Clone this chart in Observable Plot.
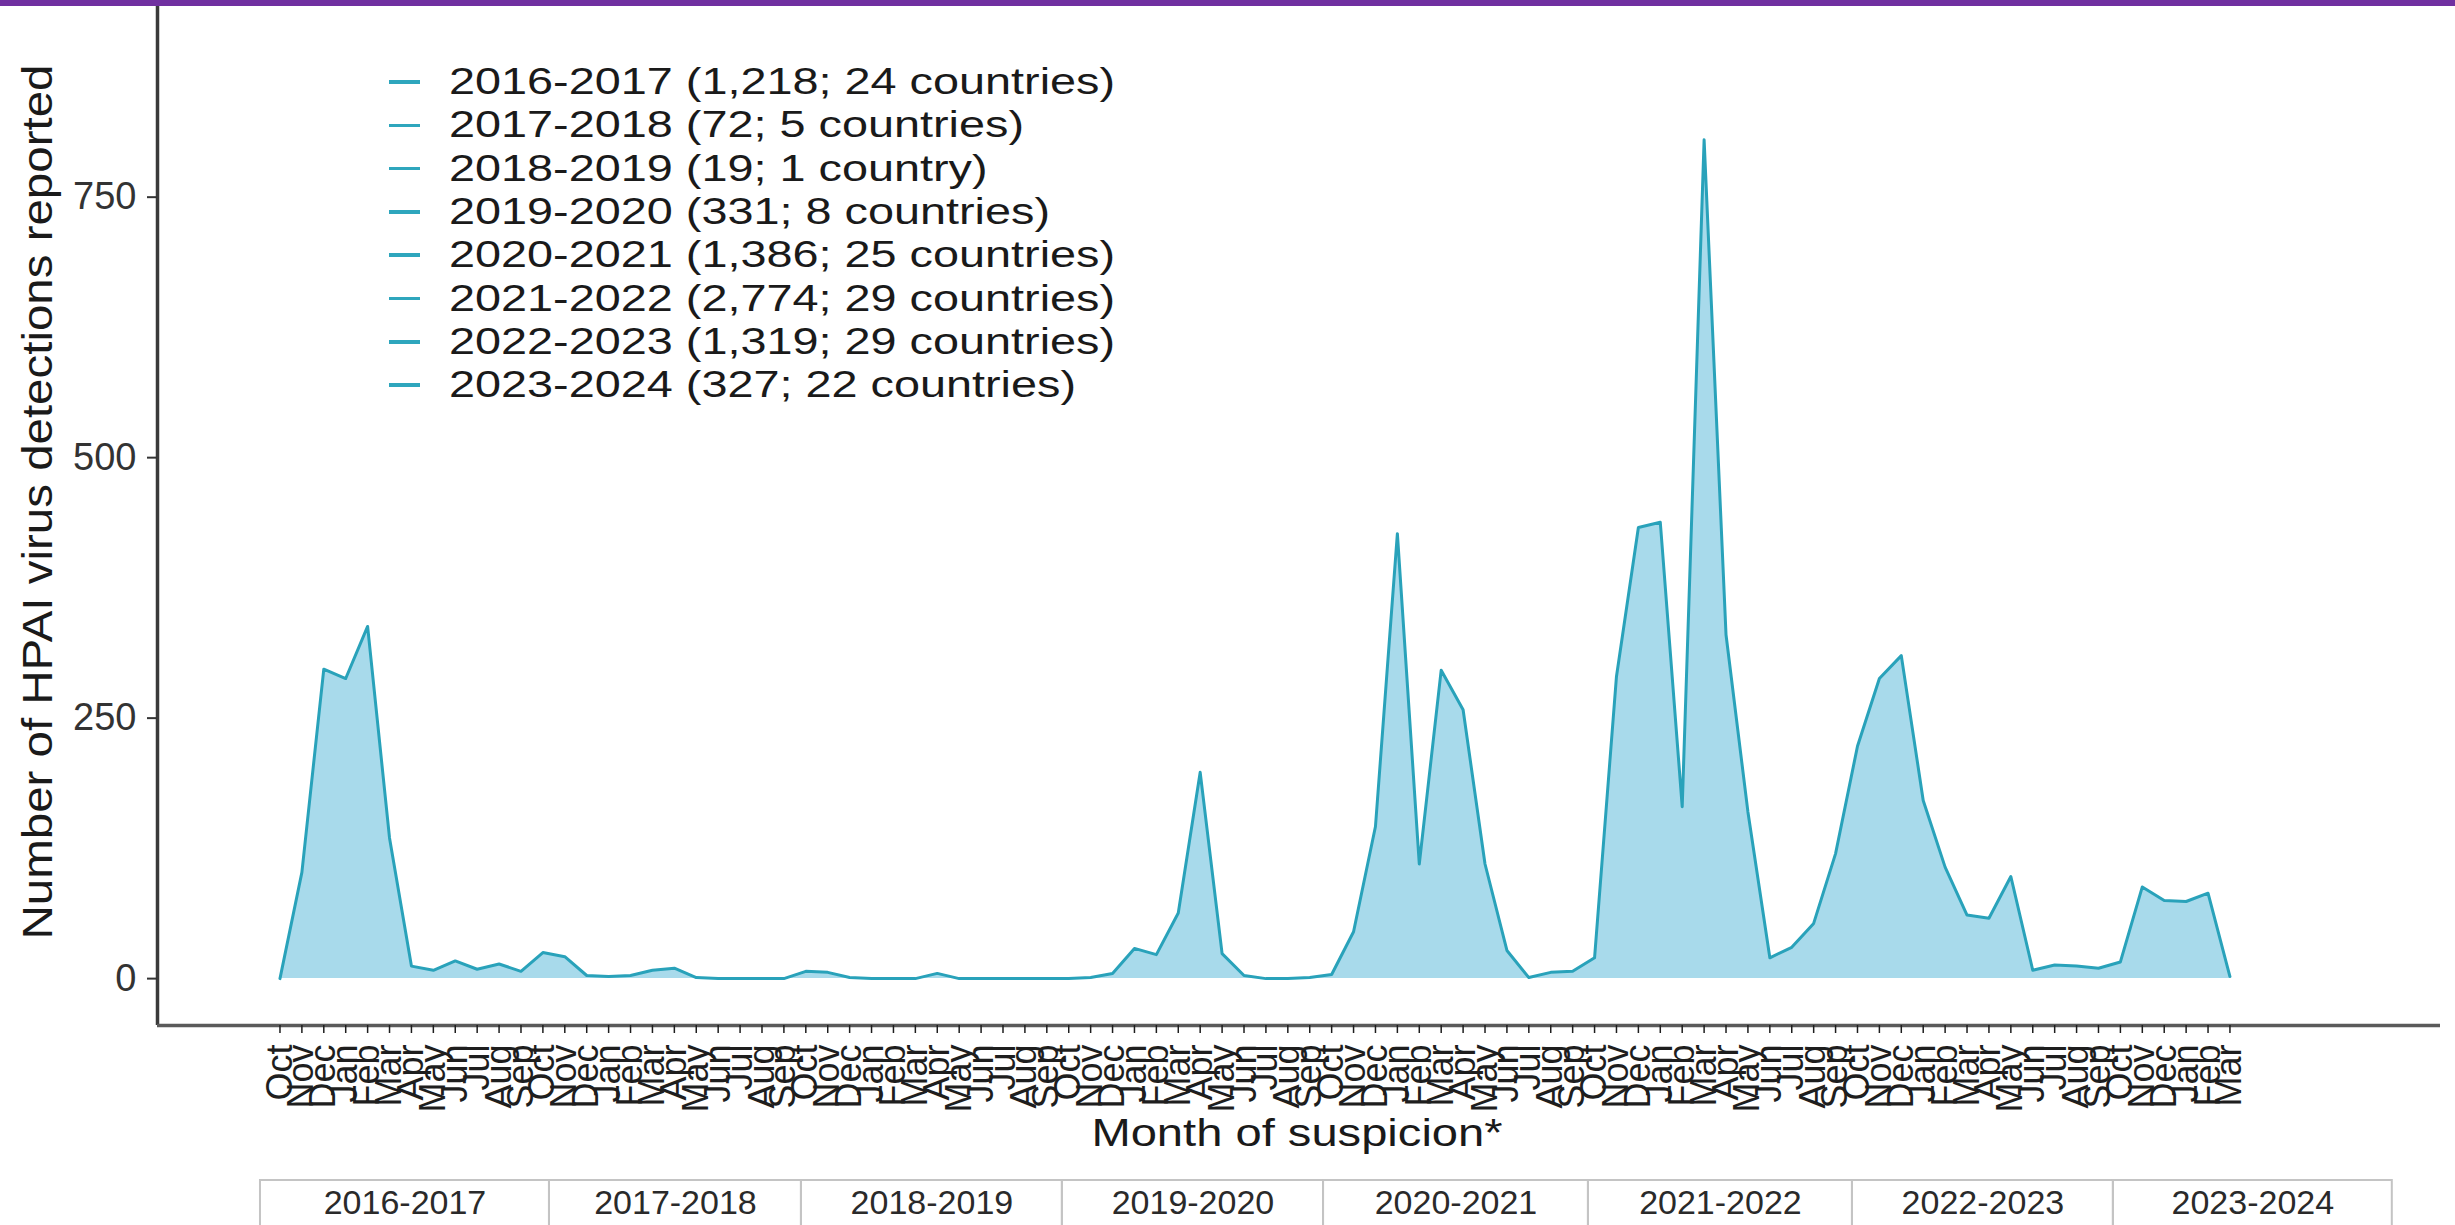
<!DOCTYPE html>
<html>
<head>
<meta charset="utf-8">
<script src="https://cdn.jsdelivr.net/npm/d3@7"></script>
<script src="https://cdn.jsdelivr.net/npm/@observablehq/plot@0.6"></script>
<style>
  html, body { margin: 0; padding: 0; width: 2455px; height: 1225px; overflow: hidden; background: #fff; }
  body { font-family: "Liberation Sans", Arial, Helvetica, sans-serif; color: #222; }
  #wrap { position: relative; width: 2455px; height: 1225px; overflow: hidden; }
  #topbar { position: absolute; left: 0; top: 0; width: 2455px; height: 6px; background: #7030a0; z-index: 10; }
  #main { position: absolute; left: 0; top: 0; width: 2455px; }
  #seasons { position: absolute; left: 0; top: 1176px; width: 2455px; }
  #legend { position: absolute; left: 389px; top: 60.4px; }
  .row { height: 43.3px; display: flex; align-items: center; white-space: nowrap; }
  .dash { display: inline-block; width: 31px; height: 3.5px; background: #2ea6bd; margin-right: 29px; }
  .ltxt { display: inline-block; font-size: 36px; transform: scaleX(1.3); transform-origin: left center; color: #1a1a1a; }
  .title { position: absolute; white-space: nowrap; color: #1a1a1a; }
  #ytitle { left: 38px; top: 502px; font-size: 42px; transform: translate(-50%, -50%) rotate(-90deg) scaleX(1.13); }
  #xtitle { left: 1297px; top: 1133px; font-size: 38px; transform: translate(-50%, -50%) scaleX(1.24); }
</style>
</head>
<body>
<div id="wrap">
  <div id="main"></div>
  <div id="seasons"></div>
  <div id="legend"></div>
  <div id="ytitle" class="title">Number of HPAI virus detections reported</div>
  <div id="xtitle" class="title">Month of suspicion*</div>
  <div id="topbar"></div>
</div>
<script>
// ---- Data ----
const monthLabels = ["Oct", "Nov", "Dec", "Jan", "Feb", "Mar", "Apr", "May", "Jun", "Jul", "Aug", "Sep"];
const seasons = ["2016-2017", "2017-2018", "2018-2019", "2019-2020", "2020-2021", "2021-2022", "2022-2023", "2023-2024"];
const detections = [1218, 72, 19, 331, 1386, 2774, 1319, 327];
const countries = [24, 5, 1, 8, 25, 29, 29, 22];

// monthly detections (Oct..Sep) per season
const s2016_2017 = [0, 102, 297, 288, 338, 135, 12, 8, 17, 9, 14, 7];
const s2017_2018 = [25, 21, 3, 2, 3, 8, 10, 1, 0, 0, 0, 0];
const s2018_2019 = [7, 6, 1, 0, 0, 0, 5, 0, 0, 0, 0, 0];
const s2019_2020 = [0, 1, 5, 29, 23, 63, 198, 24, 3, 0, 0, 1];
const s2020_2021 = [4, 45, 146, 427, 110, 296, 258, 110, 27, 1, 6, 7];
const s2021_2022 = [20, 290, 433, 438, 165, 805, 330, 160, 20, 30, 53, 120];
const s2022_2023 = [223, 288, 310, 171, 107, 61, 58, 98, 8, 13, 12, 10];
const s2023_2024 = [16, 88, 75, 74, 82, 2];

// season table below the axis (extent in months from Oct 2016, as read)
const seasonBoxStart = [-0.89, 12.3, 23.8, 35.71, 47.63, 59.72, 71.77, 83.68];
const seasonBoxEnd   = [12.3, 23.8, 35.71, 47.63, 59.72, 71.77, 83.68, 96.41];

const yTicks = [0, 250, 500, 750];

// ---- Build table ----
const seasonValues = [s2016_2017, s2017_2018, s2018_2019, s2019_2020, s2020_2021, s2021_2022, s2022_2023, s2023_2024];
const rows = [];
seasonValues.forEach((vals, s) => vals.forEach((v, m) => rows.push({i: s * 12 + m, v, month: monthLabels[m], season: seasons[s]})));

const xDomain = [-5.59, 98.61];
const yDomain = [-45, 933];
const fill = "#a8daeb", line = "#29a2ba";
const font = "'Liberation Sans', Arial, Helvetica, sans-serif";

const chart = Plot.plot({
  width: 2455,
  height: 1176,
  marginLeft: 157,
  marginRight: 15,
  marginTop: 6,
  marginBottom: 151,
  style: {background: "transparent", fontFamily: font, overflow: "visible"},
  x: {domain: xDomain},
  y: {domain: yDomain},
  marks: [
    Plot.areaY(rows, {x: "i", y: "v", fill: fill}),
    Plot.lineY(rows, {x: "i", y: "v", stroke: line, strokeWidth: 3}),
    Plot.ruleX([xDomain[0]], {stroke: "#3a3a3a", strokeWidth: 3.5}),
    Plot.ruleY([yDomain[0]], {stroke: "#5a5a5a", strokeWidth: 3.5}),
    Plot.axisY({ticks: yTicks, tickSize: 10, tickPadding: 11, fontSize: 38, color: "#333", strokeWidth: 2, label: null, tickFormat: d => String(d)}),
    Plot.axisX({ticks: rows.map(d => d.i), tickFormat: i => monthLabels[i % 12], tickRotate: -90, tickSize: 8, tickPadding: 11, fontSize: 36, color: "#1e1e1e", strokeWidth: 1.5, label: null})
  ]
});
document.getElementById("main").appendChild(chart);

// ---- Season table row ----
const seasonBoxes = seasons.map((s, k) => ({season: s, start: seasonBoxStart[k], end: seasonBoxEnd[k]}));
const seasonPlot = Plot.plot({
  width: 2455,
  height: 49,
  marginLeft: 157,
  marginRight: 15,
  marginTop: 4,
  marginBottom: -14,
  style: {background: "transparent", fontFamily: font, overflow: "visible"},
  x: {domain: xDomain, axis: null},
  y: {domain: [0, 1], axis: null},
  marks: [
    Plot.rect(seasonBoxes, {x1: "start", x2: "end", y1: 0, y2: 1, fill: "none", stroke: "#c4c4c4", strokeWidth: 2}),
    Plot.text(seasonBoxes, {x: d => (d.start + d.end) / 2, text: "season", frameAnchor: "top", lineAnchor: "middle", dy: 23, fontSize: 34, fill: "#2a2a2a"})
  ]
});
document.getElementById("seasons").appendChild(seasonPlot);

// ---- Legend ----
const fmt = d3.format(",");
const legend = d3.select("#legend");
seasons.forEach((s, k) => {
  const r = legend.append("div").attr("class", "row");
  r.append("span").attr("class", "dash");
  r.append("span").attr("class", "ltxt")
    .text(`${s} (${fmt(detections[k])}; ${countries[k]} ${countries[k] === 1 ? "country" : "countries"})`);
});
</script>
</body>
</html>
